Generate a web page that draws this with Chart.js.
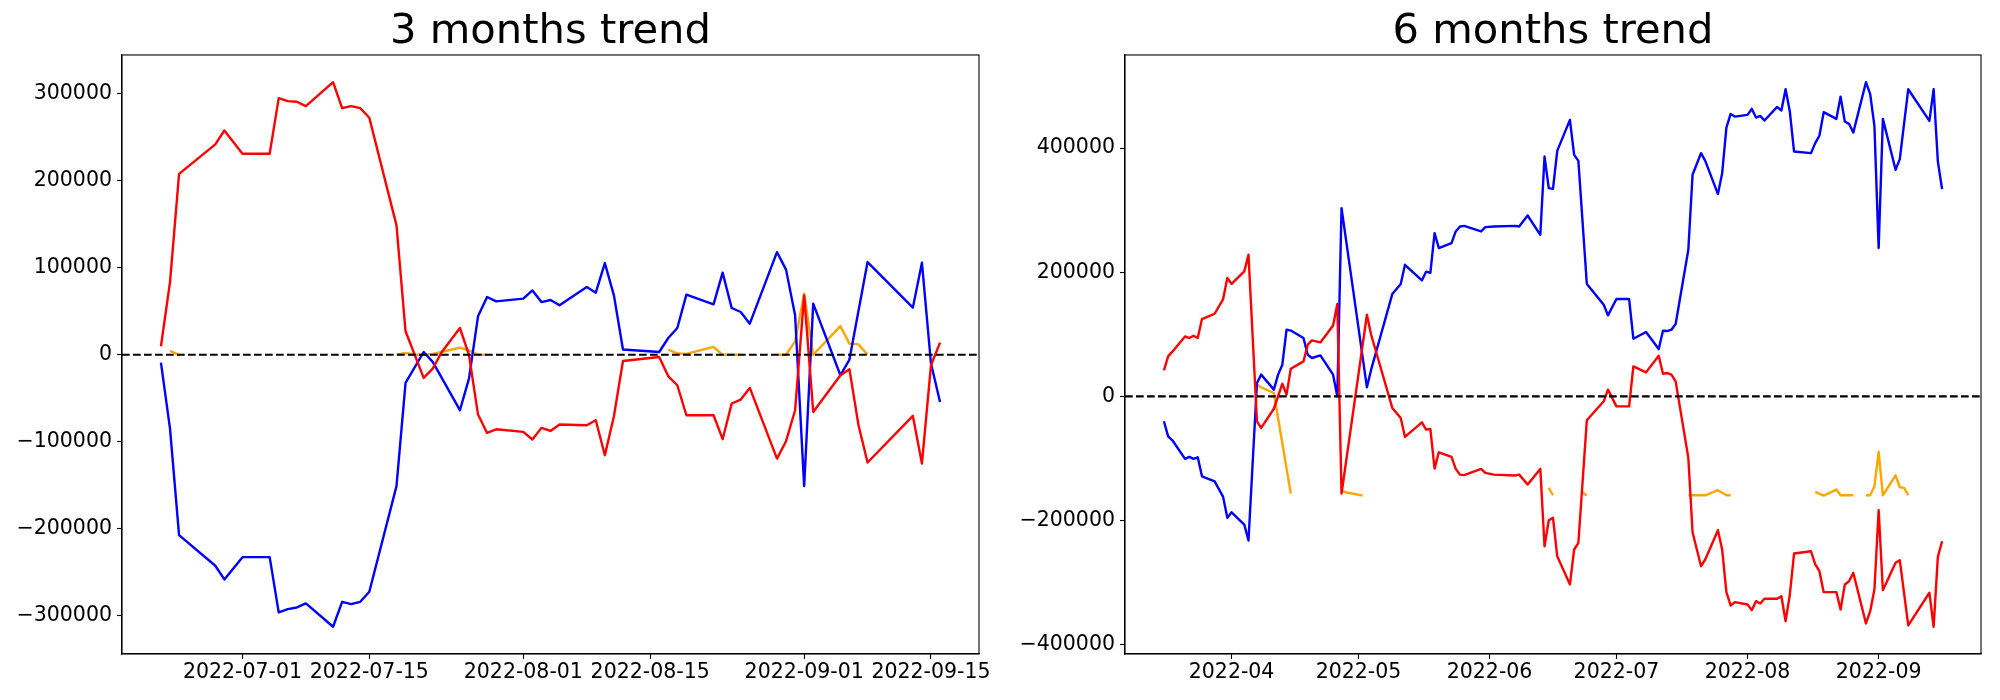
<!DOCTYPE html>
<html lang="en">

<head>
    <meta charset="UTF-8">
    <title>3 / 6 months trend</title>
    <style>
        body {
            margin: 0;
            background: #fff;
        }

        .wrap {
            position: relative;
            width: 2000px;
            height: 700px;
        }

        .wrap canvas {
            position: absolute;
            top: 0;
        }

        #chart3m {
            left: 0;
        }

        #chart6m {
            left: 1000px;
        }
    </style>
</head>

<body>

    <div class="wrap">
        <canvas id="chart3m" width="1000" height="700"></canvas>
        <canvas id="chart6m" width="1000" height="700"></canvas>
    </div>

    <script src="https://cdn.jsdelivr.net/npm/chart.js"></script>

    <script>
        // ---- 3 months ----
        const dates3m = [
            '2022-06-22', '2022-06-23', '2022-06-24', '2022-06-28', '2022-06-29', '2022-07-01',
            '2022-07-04', '2022-07-05', '2022-07-06', '2022-07-07', '2022-07-08',
            '2022-07-11', '2022-07-12', '2022-07-13', '2022-07-14', '2022-07-15',
            '2022-07-18', '2022-07-19', '2022-07-20', '2022-07-21', '2022-07-22', '2022-07-23',
            '2022-07-25', '2022-07-26', '2022-07-27', '2022-07-28', '2022-07-29',
            '2022-08-01', '2022-08-02', '2022-08-03', '2022-08-04', '2022-08-05',
            '2022-08-08', '2022-08-09', '2022-08-10', '2022-08-11', '2022-08-12',
            '2022-08-16', '2022-08-17', '2022-08-18', '2022-08-19',
            '2022-08-22', '2022-08-23', '2022-08-24', '2022-08-25', '2022-08-26',
            '2022-08-29', '2022-08-30', '2022-08-31', '2022-09-01', '2022-09-02',
            '2022-09-05', '2022-09-06', '2022-09-07', '2022-09-08',
            '2022-09-13', '2022-09-14', '2022-09-15', '2022-09-16'
        ];
        const blue3m = [
            -9000, -84800, -207300, -242500, -258200, -232600,
            -232600, -296100, -292300, -290400, -285800,
            -312600, -283900, -286600, -283900, -272400,
            -151000, -32400, null, 3200, -8200, null,
            -63700, -27400, 44200, 66400, 61400,
            64500, 74000, 60600, 63000, 56900,
            77900, 71400, 105400, 68300, 6000,
            3200, 19300, 30800, 69100,
            58000, 94400, 53800, 49200, 35800,
            118000, 97900, 45400, -151000, 58800,
            -23500, -5500, null, 106600,
            54200, 105900, -10000, -54200
        ];
        const red3m = [
            9800, 83600, 208000, 241800, 257800, 231000,
            231000, 295000, 291500, 290800, 285800,
            313300, 283500, 285800, 283500, 272400,
            148700, 27000, null, -26600, -15900, 3200,
            30800, 0, -68700, -89800, -85600,
            -88600, -97400, -84000, -87500, -80200,
            -81000, -75200, -115400, -70600, -7100,
            -2500, -24700, -35000, -69500,
            -69500, -97000, -56000, -51500, -38100,
            -119300, -99300, -63700, 68300, -65700,
            -23500, -16700, -81000, -123800,
            -70300, -125000, -12000, 14000
        ];
        // orange has breaks (null) where the series has no data
        const orange3mDates = [
            '2022-06-23', '2022-06-24', '2022-06-25',
            '2022-07-18', '2022-07-19', '2022-07-20', '2022-07-21', '2022-07-22', '2022-07-23',
            '2022-07-25', '2022-07-26', '2022-07-27', '2022-07-28', '2022-07-29',
            '2022-08-17', '2022-08-18', '2022-08-19', '2022-08-22', '2022-08-23', '2022-08-24',
            '2022-08-25', '2022-08-26',
            '2022-08-29', '2022-08-30', '2022-08-31', '2022-09-01', '2022-09-02',
            '2022-09-05', '2022-09-06', '2022-09-07', '2022-09-08'
        ];
        const orange3m = [
            4400, 0, null,
            0, 2000, 0, 0, 1000, 3200,
            8200, 5000, 0, 0, null,
            6000, 1500, 1000, 9000, 0, 0,
            0, null,
            0, 0, 15500, 70300, 0,
            33000, 12800, 12000, 0
        ];
        const xTicks3m = ['2022-07-01', '2022-07-15', '2022-08-01', '2022-08-15', '2022-09-01', '2022-09-15'];
        const xLabels3m = ['2022-07-01', '2022-07-15', '2022-08-01', '2022-08-15', '2022-09-01', '2022-09-15'];
        const yTicks3m = [-300000, -200000, -100000, 0, 100000, 200000, 300000];

        // ---- 6 months ----
        const dates6m = [
            '2022-03-16', '2022-03-17', '2022-03-18', '2022-03-21', '2022-03-22', '2022-03-23',
            '2022-03-24', '2022-03-25', '2022-03-28', '2022-03-30', '2022-03-31', '2022-04-01',
            '2022-04-04', '2022-04-05', '2022-04-07', '2022-04-08', '2022-04-11', '2022-04-12',
            '2022-04-13', '2022-04-14', '2022-04-15', '2022-04-18', '2022-04-19', '2022-04-20',
            '2022-04-22', '2022-04-25', '2022-04-26', '2022-04-27', '2022-05-03', '2022-05-04',
            '2022-05-09', '2022-05-11', '2022-05-12', '2022-05-16', '2022-05-17', '2022-05-18',
            '2022-05-19', '2022-05-20', '2022-05-23', '2022-05-24', '2022-05-25', '2022-05-26',
            '2022-05-30', '2022-05-31', '2022-06-02', '2022-06-07', '2022-06-08', '2022-06-10',
            '2022-06-13', '2022-06-14', '2022-06-15', '2022-06-16', '2022-06-17', '2022-06-20',
            '2022-06-21', '2022-06-22', '2022-06-24', '2022-06-28', '2022-06-29', '2022-07-01',
            '2022-07-04', '2022-07-05', '2022-07-08', '2022-07-11', '2022-07-12', '2022-07-13',
            '2022-07-14', '2022-07-15', '2022-07-18', '2022-07-19', '2022-07-21', '2022-07-22',
            '2022-07-25', '2022-07-26', '2022-07-27', '2022-07-28', '2022-07-29', '2022-08-01',
            '2022-08-02', '2022-08-03', '2022-08-04', '2022-08-05', '2022-08-08', '2022-08-09',
            '2022-08-10', '2022-08-11', '2022-08-12', '2022-08-16', '2022-08-17', '2022-08-18',
            '2022-08-19', '2022-08-22', '2022-08-23', '2022-08-24', '2022-08-25', '2022-08-26',
            '2022-08-29', '2022-08-30', '2022-08-31', '2022-09-01', '2022-09-02', '2022-09-05',
            '2022-09-06', '2022-09-08', '2022-09-13', '2022-09-14', '2022-09-15', '2022-09-16'
        ];
        const blue6m = [
            -40200, -64400, -70800, -100800, -97600, -100800,
            -98200, -128800, -136900, -162000, -195800, -186800,
            -206600, -232300, 21500, 35000, 10800, 35000,
            51000, 107400, 106000, 94000, 67000, 61800,
            66000, 34900, 0, 303300, 14500, 43000,
            164800, 181000, 212000, 186800, 201000, 199000,
            263000, 239000, 247000, 265700, 273700, 274700,
            265700, 272700, 273700, 274700, 273700, 291400,
            260300, 386400, 335500, 334400, 395600, 445500,
            389100, 379500, 181000, 147600, 130400, 156800,
            156800, 92900, 103700, 76300, 105800, 105200,
            107400, 116600, 236200, 357000, 391900, 379500,
            325900, 359700, 433100, 455100, 450800, 453500,
            463200, 449200, 451900, 444400, 466400, 460500,
            494900, 458900, 394500, 391900, 408000, 420200,
            457900, 447100, 483000, 442800, 439100, 425000,
            506200, 486900, 435800, 238900, 447100, 365000,
            382200, 494900, 443900, 494900, 378400, 333900
        ];
        const red6m = [
            41900, 64400, 72000, 96600, 94000, 97700,
            94000, 124600, 133100, 156800, 190600, 181400,
            201300, 228100, -40200, -50900, -20000, null,
            20500, 2700, 44600, 56400, 83200, 90200,
            86900, 114300, 148800, -156700, 131500, 99300,
            -18700, -34800, -65400, -41800, -53600, -52600,
            -116400, -90100, -97600, -116900, -126100, -127000,
            -116900, -123400, -126100, -127600, -126100, -142200,
            -116900, -241500, -199600, -195800, -257600, -303100,
            -246800, -236000, -38600, -8000, 10800, -16100,
            -16100, 48300, 38600, 65500, 36500, 37600,
            35000, 24200, -99200, -218900, -273700, -262900,
            -215700, -246800, -315500, -337000, -331600, -335400,
            -344500, -330000, -333800, -326200, -326200, -322000,
            -362300, -319300, -253300, -249600, -270900, -281700,
            -315500, -315500, -343400, -303100, -297900, -284300,
            -365900, -346200, -311200, -183500, -312300, -268200,
            -264000, -369200, -316500, -371300, -258600, -233400
        ];
        const orange6mDates = [
            '2022-04-07', '2022-04-08', '2022-04-11', '2022-04-15', '2022-04-16',
            '2022-04-27', '2022-04-28', '2022-05-02', '2022-05-03',
            '2022-06-15', '2022-06-16', '2022-06-17',
            '2022-06-23', '2022-06-24', '2022-06-25',
            '2022-07-18', '2022-07-22', '2022-07-25', '2022-07-27', '2022-07-28', '2022-07-29',
            '2022-08-17', '2022-08-19', '2022-08-22', '2022-08-23', '2022-08-26', '2022-08-27',
            '2022-08-29', '2022-08-30', '2022-08-31', '2022-09-01', '2022-09-02',
            '2022-09-05', '2022-09-06', '2022-09-07', '2022-09-08'
        ];
        const orange6m = [
            18800, 14500, 5400, -156700, null,
            -151800, -154500, -159900, null,
            -147500, -159400, null,
            -154500, -159900, null,
            -159400, -159400, -151300, -159400, -159400, null,
            -153900, -159900, -150200, -159400, -159400, null,
            -159400, -159400, -144900, -89500, -159400,
            -127200, -146500, -147500, -159400
        ];
        const xTicks6m = ['2022-04-01', '2022-05-01', '2022-06-01', '2022-07-01', '2022-08-01', '2022-09-01'];
        const xLabels6m = ['2022-04', '2022-05', '2022-06', '2022-07', '2022-08', '2022-09'];
        const yTicks6m = [-400000, -200000, 0, 200000, 400000];

        // ---- helpers ----
        const DAY = 86400000;
        function toDay(s) {
            const p = s.split('-').map(Number);
            return Date.UTC(p[0], p[1] - 1, p[2]) / DAY;
        }
        function toPoints(dates, values) {
            return dates.map((d, i) => ({ x: toDay(d), y: values[i] }));
        }
        // matplotlib style 5% margins
        function padded(values) {
            const v = values.filter(n => n !== null);
            const lo = Math.min(...v), hi = Math.max(...v);
            const m = (hi - lo) * 0.05;
            return [lo - m, hi + m];
        }
        function minusSign(v) {
            return v < 0 ? '\u2212' + Math.abs(v) : String(v);
        }

        Chart.defaults.font.family = 'DejaVu Sans';
        Chart.defaults.color = '#000';

        // box around the plot area (all four spines)
        const frame = {
            id: 'frame',
            afterDraw(chart) {
                const a = chart.chartArea;
                const ctx = chart.ctx;
                ctx.save();
                ctx.strokeStyle = '#000';
                ctx.lineWidth = 1.1;
                ctx.strokeRect(a.left, a.top, a.right - a.left, a.bottom - a.top);
                ctx.restore();
            }
        };

        function makeChart(id, s) {
            const xr = padded(s.dates.map(toDay));
            const yr = padded(s.blue.concat(s.red, s.orange));
            const tickFont = { family: 'DejaVu Sans', size: 20.5 };

            return new Chart(document.getElementById(id), {
                type: 'line',
                data: {
                    datasets: [
                        {
                            // axhline(0)
                            data: [{ x: xr[0], y: 0 }, { x: xr[1], y: 0 }],
                            borderColor: '#000',
                            borderWidth: 2.1,
                            borderDash: [7.7, 3.3],
                            order: 0
                        },
                        {
                            data: toPoints(s.dates, s.red),
                            borderColor: '#ff0000',
                            spanGaps: true,
                            order: 1
                        },
                        {
                            data: toPoints(s.dates, s.blue),
                            borderColor: '#0000ff',
                            spanGaps: true,
                            order: 2
                        },
                        {
                            data: toPoints(s.orangeDates, s.orange),
                            borderColor: '#ffa500',
                            spanGaps: false,
                            order: 3
                        }
                    ]
                },
                options: {
                    responsive: false,
                    animation: false,
                    devicePixelRatio: 1,
                    events: [],
                    elements: {
                        point: { radius: 0 },
                        line: { borderWidth: 2.4, tension: 0, fill: false, borderJoinStyle: 'round' }
                    },
                    layout: { padding: { top: 0, right: s.padRight, bottom: 0, left: 0 } },
                    plugins: {
                        legend: { display: false },
                        tooltip: { enabled: false },
                        title: {
                            display: true,
                            text: s.title,
                            fullSize: false,
                            color: '#000',
                            font: { family: 'DejaVu Sans', size: 41.67, weight: 'normal', lineHeight: 1 },
                            padding: { top: 11.5, bottom: 1.8 }
                        }
                    },
                    scales: {
                        x: {
                            type: 'linear',
                            min: xr[0],
                            max: xr[1],
                            afterBuildTicks: sc => { sc.ticks = s.xTicks.map(d => ({ value: toDay(d) })); },
                            afterFit: sc => { sc.height = 46; },
                            ticks: {
                                autoSkip: false,
                                maxRotation: 0,
                                padding: 1,
                                font: tickFont,
                                color: '#000',
                                callback: (v, i) => s.xLabels[i]
                            },
                            grid: { drawOnChartArea: false, tickLength: 5, tickWidth: 1.1, tickColor: '#000' },
                            border: { display: true, color: '#000', width: 1.1 }
                        },
                        y: {
                            type: 'linear',
                            min: yr[0],
                            max: yr[1],
                            afterBuildTicks: sc => { sc.ticks = s.yTicks.map(v => ({ value: v })); },
                            afterFit: sc => { sc.width = s.axisWidth; },
                            ticks: {
                                padding: 5,
                                font: tickFont,
                                color: '#000',
                                callback: v => minusSign(v)
                            },
                            grid: { drawOnChartArea: false, tickLength: 5, tickWidth: 1.1, tickColor: '#000' },
                            border: { display: true, color: '#000', width: 1.1 }
                        }
                    }
                },
                plugins: [frame]
            });
        }

        makeChart('chart3m', {
            title: '3 months trend',
            dates: dates3m, blue: blue3m, red: red3m,
            orangeDates: orange3mDates, orange: orange3m,
            xTicks: xTicks3m, xLabels: xLabels3m, yTicks: yTicks3m,
            axisWidth: 122, padRight: 21
        });

        makeChart('chart6m', {
            title: '6 months trend',
            dates: dates6m, blue: blue6m, red: red6m,
            orangeDates: orange6mDates, orange: orange6m,
            xTicks: xTicks6m, xLabels: xLabels6m, yTicks: yTicks6m,
            axisWidth: 125, padRight: 19
        });
    </script>

</body>

</html>
